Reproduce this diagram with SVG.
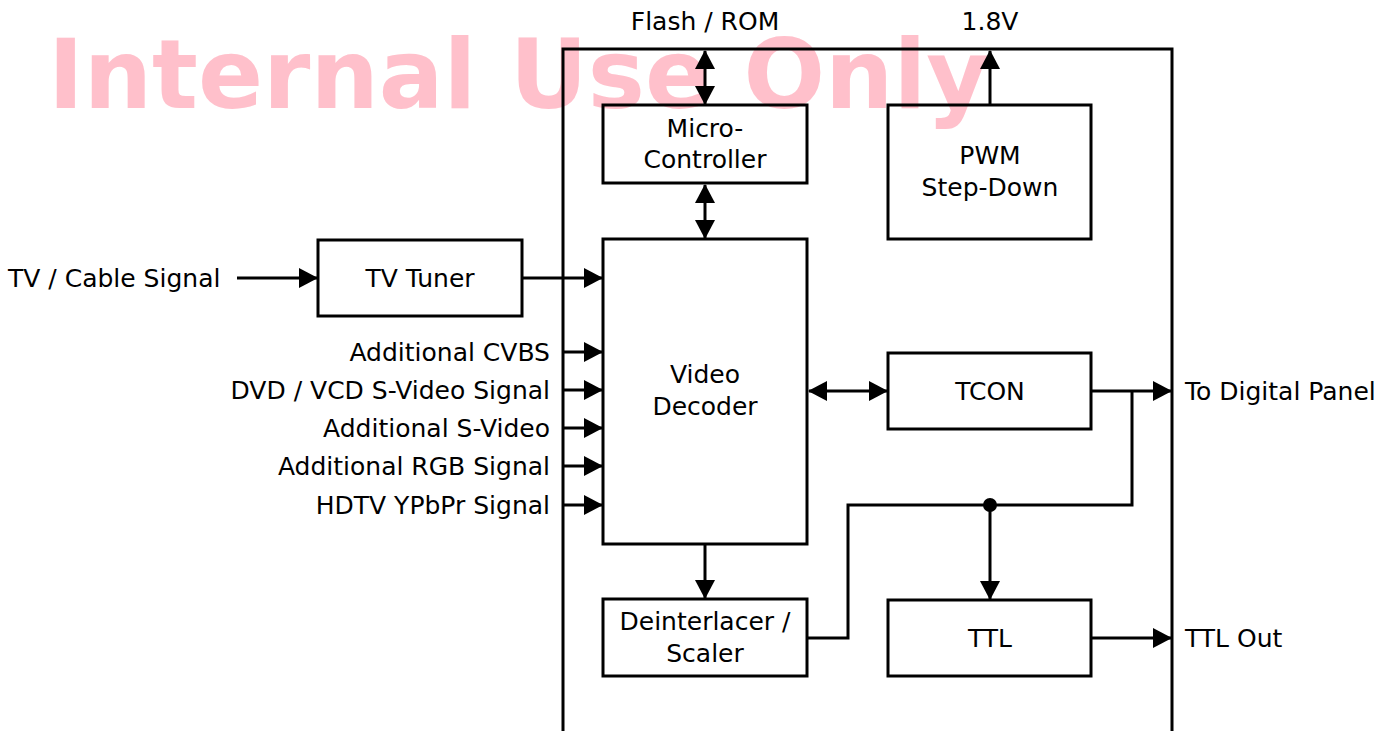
<svg xmlns="http://www.w3.org/2000/svg" width="1400" height="731" viewBox="0 0 1400 731">
<style>
.box{fill:none;stroke:#000;stroke-width:3}
.ln{fill:none;stroke:#000;stroke-width:3}
.t{font-family:"DejaVu Sans","Liberation Sans",sans-serif;font-size:25px;fill:#000}
.c{text-anchor:middle}
.r{text-anchor:end}
.wm{font-family:"DejaVu Sans","Liberation Sans",sans-serif;font-weight:bold;font-size:96px;fill:#FFC0CB}
</style>
<defs>
<marker id="ah" markerUnits="userSpaceOnUse" markerWidth="19" markerHeight="20" refX="18" refY="10" orient="auto-start-reverse" viewBox="0 0 19 20">
<path d="M0,0 L19,10 L0,20 z" fill="#000"/>
</marker>
</defs>
<rect width="1400" height="731" fill="#fff"/>
<text class="wm" x="48" y="108">Internal Use Only</text>
<g id="main-board"><path class="ln" d="M563,733 V49 H1172 V733"/></g>
<g id="connectors">
<line class="ln" x1="705" y1="51" x2="705" y2="104" marker-start="url(#ah)" marker-end="url(#ah)"/>
<line class="ln" x1="990" y1="104" x2="990" y2="51" marker-end="url(#ah)"/>
<line class="ln" x1="705" y1="185" x2="705" y2="238" marker-start="url(#ah)" marker-end="url(#ah)"/>
<line class="ln" x1="237" y1="278" x2="317" y2="278" marker-end="url(#ah)"/>
<line class="ln" x1="522" y1="278" x2="602" y2="278" marker-end="url(#ah)"/>
<line class="ln" x1="563" y1="352" x2="602" y2="352" marker-end="url(#ah)"/>
<line class="ln" x1="563" y1="390" x2="602" y2="390" marker-end="url(#ah)"/>
<line class="ln" x1="563" y1="428" x2="602" y2="428" marker-end="url(#ah)"/>
<line class="ln" x1="563" y1="466" x2="602" y2="466" marker-end="url(#ah)"/>
<line class="ln" x1="563" y1="505" x2="602" y2="505" marker-end="url(#ah)"/>
<line class="ln" x1="809" y1="391" x2="887" y2="391" marker-start="url(#ah)" marker-end="url(#ah)"/>
<line class="ln" x1="1091" y1="391" x2="1171" y2="391" marker-end="url(#ah)"/>
<path class="ln" d="M1132,391 V505 H848 V638 H807"/>
<line class="ln" x1="990" y1="505" x2="990" y2="599" marker-end="url(#ah)"/>
<circle cx="990" cy="505" r="7" fill="#000"/>
<line class="ln" x1="705" y1="544" x2="705" y2="598" marker-end="url(#ah)"/>
<line class="ln" x1="1091" y1="638" x2="1171" y2="638" marker-end="url(#ah)"/>
</g>
<g id="micro-controller"><rect class="box" x="603" y="105" width="204" height="78"/>
<text class="t c" x="705" y="137">Micro-</text><text class="t c" x="705" y="168">Controller</text></g>
<g id="pwm"><rect class="box" x="888" y="105" width="203" height="134"/>
<text class="t c" x="990" y="164">PWM</text><text class="t c" x="990" y="196">Step-Down</text></g>
<g id="video-decoder"><rect class="box" x="603" y="239" width="204" height="305"/>
<text class="t c" x="705" y="383">Video</text><text class="t c" x="705" y="415">Decoder</text></g>
<g id="tv-tuner"><rect class="box" x="318" y="240" width="204" height="76"/>
<text class="t c" x="420" y="287">TV Tuner</text></g>
<g id="tcon"><rect class="box" x="888" y="353" width="203" height="76"/>
<text class="t c" x="990" y="400">TCON</text></g>
<g id="deinterlacer"><rect class="box" x="603" y="599" width="204" height="77"/>
<text class="t c" x="705" y="630">Deinterlacer /</text><text class="t c" x="705" y="662">Scaler</text></g>
<g id="ttl"><rect class="box" x="888" y="600" width="203" height="76"/>
<text class="t c" x="990" y="647">TTL</text></g>
<g id="labels">
<text class="t c" x="705" y="30">Flash / ROM</text>
<text class="t c" x="990" y="30">1.8V</text>
<text class="t" x="8" y="287">TV / Cable Signal</text>
<text class="t r" x="550" y="361">Additional CVBS</text>
<text class="t r" x="550" y="399">DVD / VCD S-Video Signal</text>
<text class="t r" x="550" y="437">Additional S-Video</text>
<text class="t r" x="550" y="475">Additional RGB Signal</text>
<text class="t r" x="550" y="514">HDTV YPbPr Signal</text>
<text class="t" x="1185" y="400">To Digital Panel</text>
<text class="t" x="1185" y="647">TTL Out</text>
</g>
</svg>
